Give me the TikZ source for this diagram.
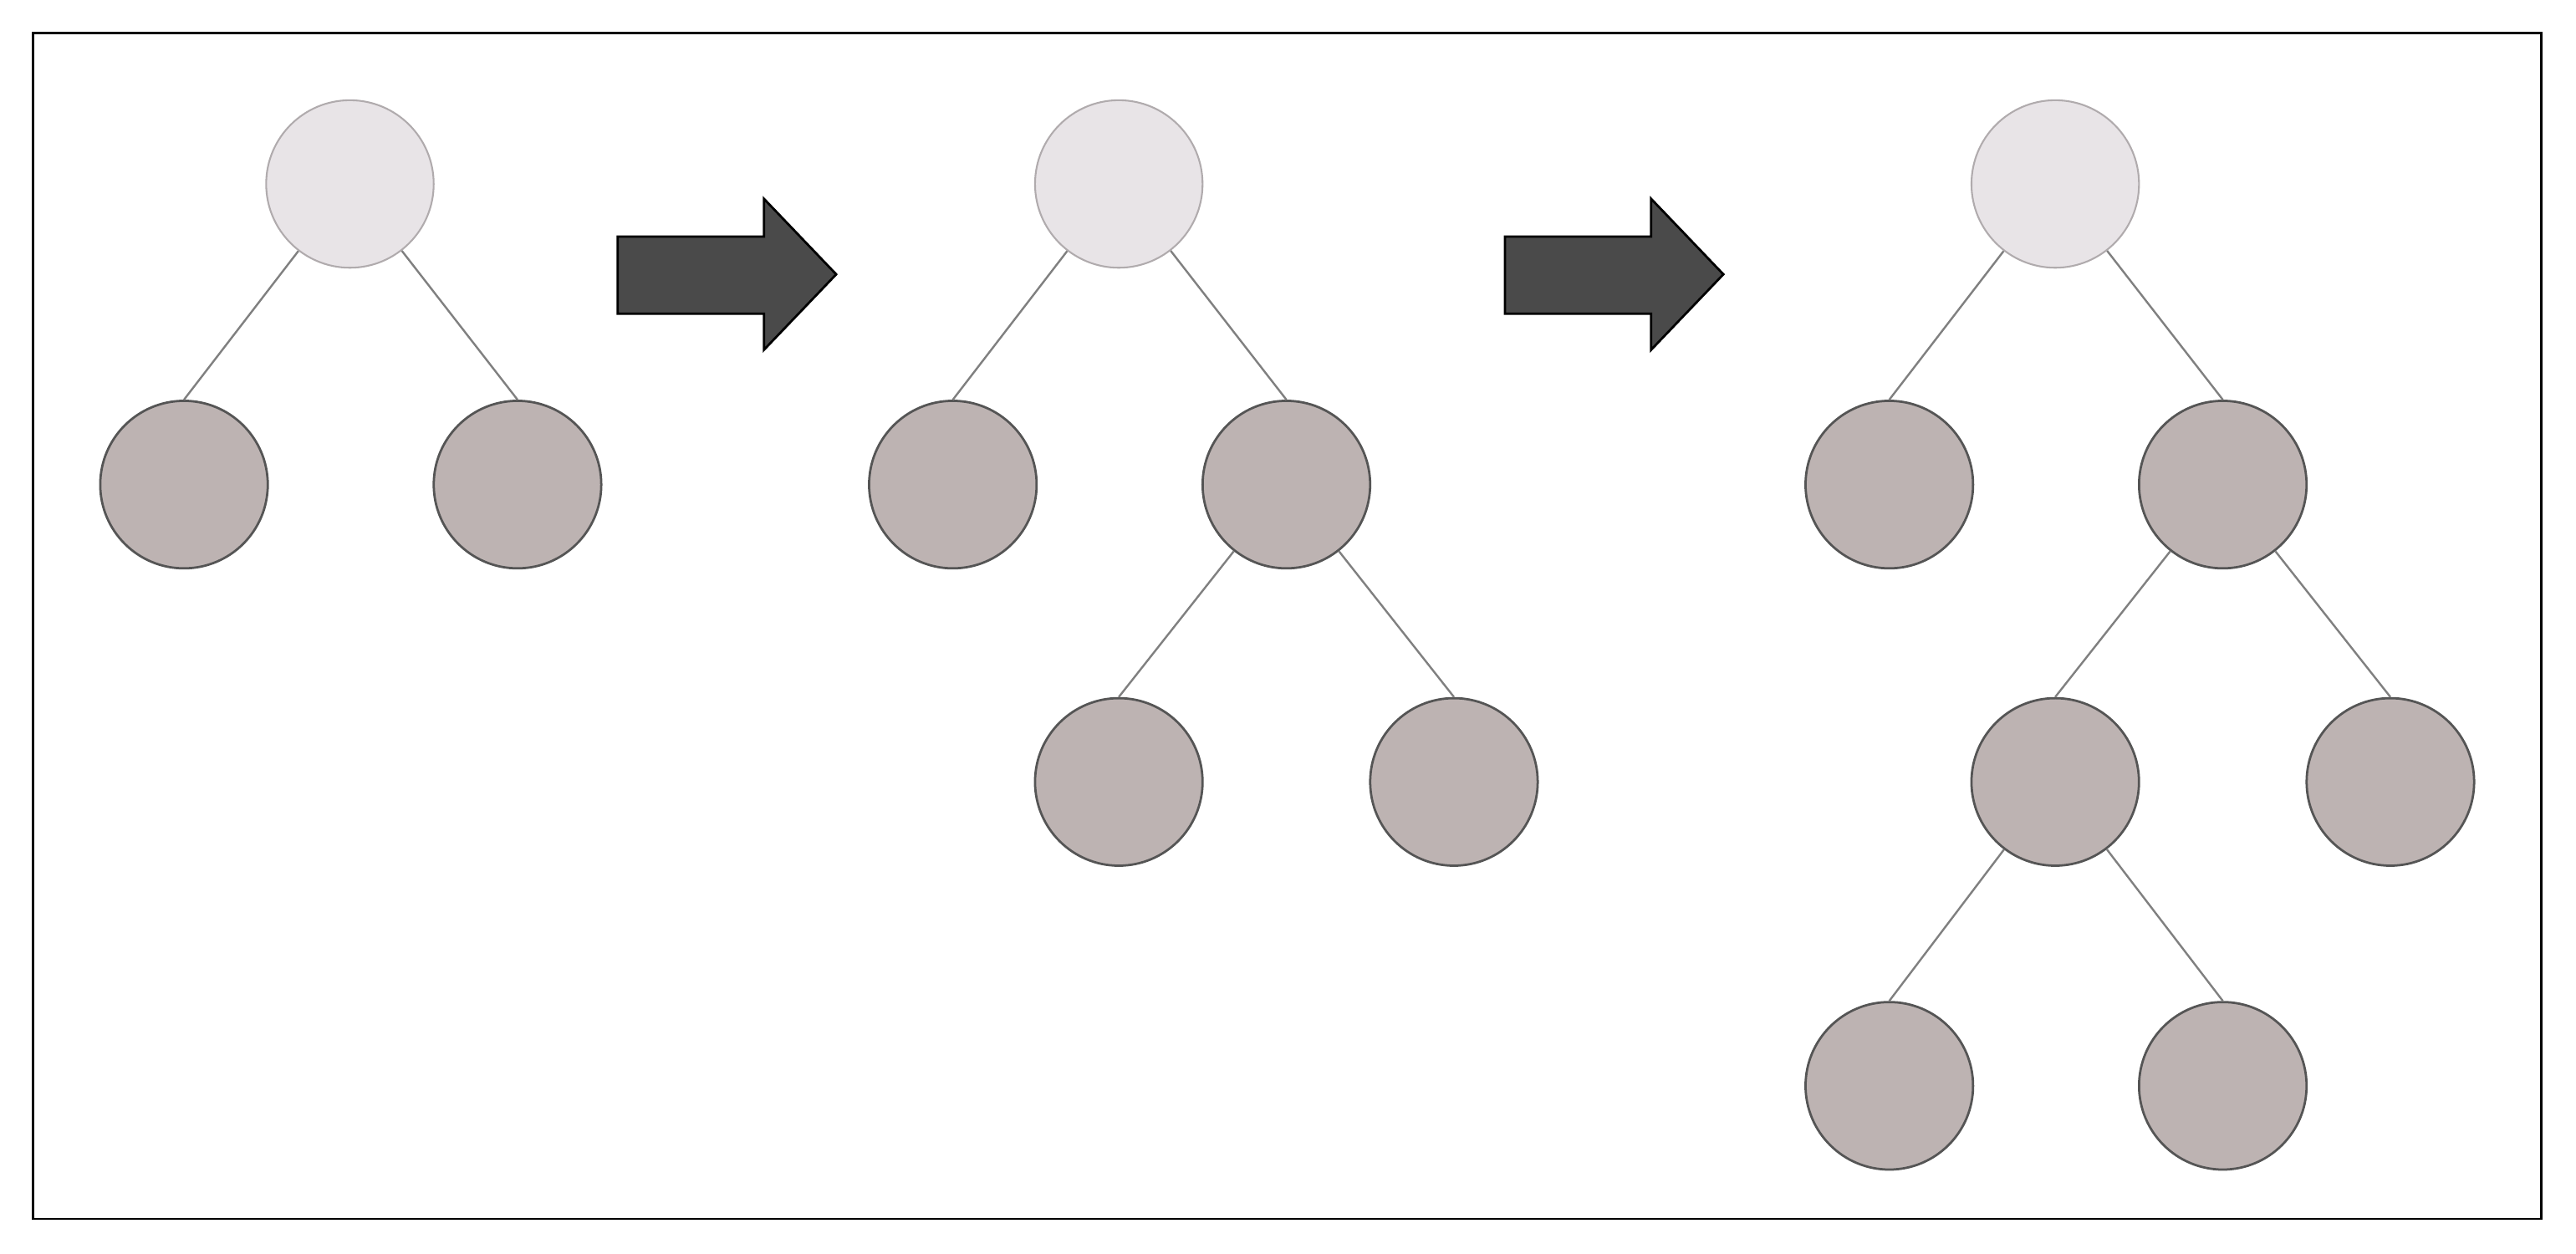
\documentclass[tikz,border=0pt]{standalone}
\begin{document}
\begin{tikzpicture}[x=0.02cm,y=-0.02cm,
  rootn/.style={circle,minimum size=2.04cm,inner sep=0pt,fill=rootfill,draw=rootdraw,line width=0.6pt},
  kid/.style={circle,minimum size=2.04cm,inner sep=0pt,fill=kidfill,draw=kiddraw,line width=0.8pt},
  edge/.style={draw=edgec,line width=0.7pt},
  bigarrow/.style={fill=arrowfill,draw=black,line width=0.8pt}]
\definecolor{rootfill}{HTML}{E8E4E7}
\definecolor{rootdraw}{HTML}{B0ABAD}
\definecolor{kidfill}{HTML}{BDB3B2}
\definecolor{kiddraw}{HTML}{555555}
\definecolor{edgec}{HTML}{808080}
\definecolor{arrowfill}{HTML}{4A4A4A}
\useasboundingbox (0,0) rectangle (1568,763);
\draw[line width=0.8pt] (20,20) rectangle (1547,742);
% tree 1
\node[rootn] (a0) at (213,112) {};
\node[kid] (a1) at (112,295) {};
\node[kid] (a2) at (315,295) {};
\draw[edge] (a0) -- (a1.north);
\draw[edge] (a0) -- (a2.north);
% tree 2
\node[rootn] (b0) at (681,112) {};
\node[kid] (b1) at (580,295) {};
\node[kid] (b2) at (783,295) {};
\node[kid] (b3) at (681,476) {};
\node[kid] (b4) at (885,476) {};
\draw[edge] (b0) -- (b1.north);
\draw[edge] (b0) -- (b2.north);
\draw[edge] (b2) -- (b3.north);
\draw[edge] (b2) -- (b4.north);
% tree 3
\node[rootn] (c0) at (1251,112) {};
\node[kid] (c1) at (1150,295) {};
\node[kid] (c2) at (1353,295) {};
\node[kid] (c3) at (1251,476) {};
\node[kid] (c4) at (1455,476) {};
\node[kid] (c5) at (1150,661) {};
\node[kid] (c6) at (1353,661) {};
\draw[edge] (c0) -- (c1.north);
\draw[edge] (c0) -- (c2.north);
\draw[edge] (c2) -- (c3.north);
\draw[edge] (c2) -- (c4.north);
\draw[edge] (c3) -- (c5.north);
\draw[edge] (c3) -- (c6.north);
% arrows
\draw[bigarrow] (376,144) -- (465,144) -- (465,121) -- (509,167) -- (465,213) -- (465,191) -- (376,191) -- cycle;
\draw[bigarrow] (916,144) -- (1005,144) -- (1005,121) -- (1049,167) -- (1005,213) -- (1005,191) -- (916,191) -- cycle;
\end{tikzpicture}
\end{document}
